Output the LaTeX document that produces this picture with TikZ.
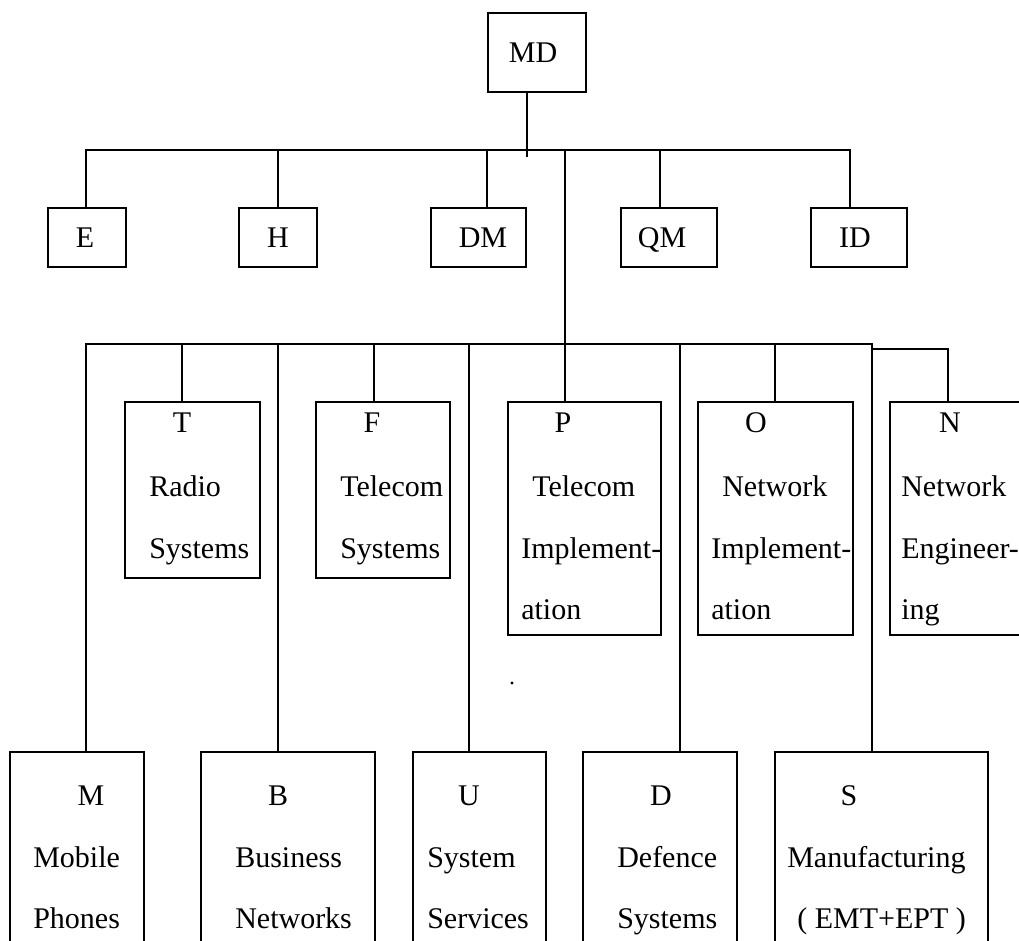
\documentclass[tikz,border=0pt]{standalone}
\usepackage{fontspec}
\setmainfont{Liberation Serif}
\tikzset{
  unitbox/.style={draw, line width=1.3pt, inner sep=0pt},
  link/.style={line width=1.1pt},
  lbl/.style={inner sep=0.75pt, font=\fontsize{22.5}{27}\selectfont},
}
\begin{document}
\begin{tikzpicture}[x=0.75pt,y=0.75pt,yscale=-1,xscale=1]
\useasboundingbox (0,0) rectangle (1019,940);
\clip (0,0) rectangle (1019,940);

%Shape: Rectangle [top]
\node [unitbox, minimum width=73.5pt, minimum height=59.25pt] (MD) at (537,52.5) {};
%Shape: Rectangle [staff row]
\node [unitbox, minimum width=58.5pt, minimum height=44.25pt] (E) at (87,237.5) {};
\node [unitbox, minimum width=58.5pt, minimum height=44.25pt] (H) at (278,237.5) {};
\node [unitbox, minimum width=71.25pt, minimum height=44.25pt] (DM) at (478.5,237.5) {};
\node [unitbox, minimum width=72pt, minimum height=44.25pt] (QM) at (669,237.5) {};
\node [unitbox, minimum width=72pt, minimum height=44.25pt] (ID) at (859,237.5) {};
%Shape: Rectangle [middle row]
\node [unitbox, minimum width=101.25pt, minimum height=132pt] (T) at (192.5,490) {};
\node [unitbox, minimum width=100.5pt, minimum height=132pt] (F) at (383,490) {};
\node [unitbox, minimum width=114.75pt, minimum height=174.75pt] (P) at (584.5,518.5) {};
\node [unitbox, minimum width=116.25pt, minimum height=174.75pt] (O) at (775.5,518.5) {};
\node [unitbox, minimum width=105pt, minimum height=174.75pt] (N) at (960,518.5) {};
%Shape: Rectangle [bottom row]
\node [unitbox, minimum width=100.5pt, minimum height=156pt] (M) at (77,856) {};
\node [unitbox, minimum width=130.5pt, minimum height=156pt] (B) at (288,856) {};
\node [unitbox, minimum width=99.75pt, minimum height=156pt] (U) at (479.5,856) {};
\node [unitbox, minimum width=115.5pt, minimum height=156pt] (D) at (660,856) {};
\node [unitbox, minimum width=159.75pt, minimum height=156pt] (S) at (881.5,856) {};

%Straight Lines [upper bar]
\coordinate (mdfoot) at (527,157);
\coordinate (tE) at (86,150);
\coordinate (tH) at (278,150);
\coordinate (tDM) at (487,150);
\coordinate (tP) at (565,150);
\coordinate (tQM) at (660,150);
\coordinate (tID) at (850,150);
\draw [link] (mdfoot |- MD.south) -- (mdfoot);
\draw [link] (tE |- E.north) -- (tE) -- (tID) -- (tID |- ID.north);
\draw [link] (tH) -- (tH |- H.north);
\draw [link] (tDM) -- (tDM |- DM.north);
\draw [link] (tQM) -- (tQM |- QM.north);
\draw [link] (tP) -- (tP |- P.north);
%Straight Lines [lower bar]
\coordinate (mM) at (86,344);
\coordinate (mT) at (182,344);
\coordinate (mB) at (278,344);
\coordinate (mF) at (374,344);
\coordinate (mU) at (469,344);
\coordinate (mD) at (680,344);
\coordinate (mO) at (775,344);
\coordinate (mS) at (872,344);
\coordinate (mSN) at (872,349);
\coordinate (mN) at (948,349);
\draw [link] (mM |- M.north) -- (mM) -- (mS) -- (mS |- S.north);
\draw [link] (mT) -- (mT |- T.north);
\draw [link] (mB) -- (mB |- B.north);
\draw [link] (mF) -- (mF |- F.north);
\draw [link] (mU) -- (mU |- U.north);
\draw [link] (mD) -- (mD |- D.north);
\draw [link] (mO) -- (mO |- O.north);
\draw [link] (mSN) -- (mN) -- (mN |- N.north);

% Text Node
\node [lbl, anchor=base] (lMD) at (533,62) {MD};
\node [lbl, anchor=base] (lE) at (85,247) {E};
\node [lbl, anchor=base] (lH) at (278,247) {H};
\node [lbl, anchor=base] (lDM) at (483,247) {DM};
\node [lbl, anchor=base] (lQM) at (662,247) {QM};
\node [lbl, anchor=base] (lID) at (855,247) {ID};
% Text Node
\node [lbl, anchor=base] (lT) at (182,432) {T};
\node [lbl, anchor=base west] (lT1) at (148,496) {Radio};
\node [lbl, anchor=base west] (lT2) at (148,558) {Systems};
\node [lbl, anchor=base] (lF) at (372,432) {F};
\node [lbl, anchor=base west] (lF1) at (339,496) {Telecom};
\node [lbl, anchor=base west] (lF2) at (339,558) {Systems};
\node [lbl, anchor=base] (lP) at (563,432) {P};
\node [lbl, anchor=base west] (lP1) at (531,496) {Telecom};
\node [lbl, anchor=base west] (lP2) at (520,558) {Implement-};
\node [lbl, anchor=base west] (lP3) at (520,619) {ation};
\node [lbl, anchor=base] (lO) at (756,432) {O};
\node [lbl, anchor=base west] (lO1) at (721,496) {Network};
\node [lbl, anchor=base west] (lO2) at (710,558) {Implement-};
\node [lbl, anchor=base west] (lO3) at (710,619) {ation};
\node [lbl, anchor=base] (lN) at (950,432) {N};
\node [lbl, anchor=base west] (lN1) at (900,496) {Network};
\node [lbl, anchor=base west] (lN2) at (900,558) {Engineer-};
\node [lbl, anchor=base west] (lN3) at (900,619) {ing};
% Text Node
\node [lbl, anchor=base] (lM) at (91,805) {M};
\node [lbl, anchor=base west] (lM1) at (32,867) {Mobile};
\node [lbl, anchor=base west] (lM2) at (32,928) {Phones};
\node [lbl, anchor=base] (lB) at (278,805) {B};
\node [lbl, anchor=base west] (lB1) at (234,867) {Business};
\node [lbl, anchor=base west] (lB2) at (234,928) {Networks};
\node [lbl, anchor=base] (lU) at (469,805) {U};
\node [lbl, anchor=base west] (lU1) at (426,867) {System};
\node [lbl, anchor=base west] (lU2) at (426,928) {Services};
\node [lbl, anchor=base] (lD) at (661,805) {D};
\node [lbl, anchor=base west] (lD1) at (616,867) {Defence};
\node [lbl, anchor=base west] (lD2) at (616,928) {Systems};
\node [lbl, anchor=base] (lS) at (849,805) {S};
\node [lbl, anchor=base west] (lS1) at (786,867) {Manufacturing};
\node [lbl, anchor=base west] (lS2) at (796,928) {( EMT+EPT )};

%Shape: Dot
\fill (512,683) circle [radius=1.6];

\end{tikzpicture}
\end{document}
